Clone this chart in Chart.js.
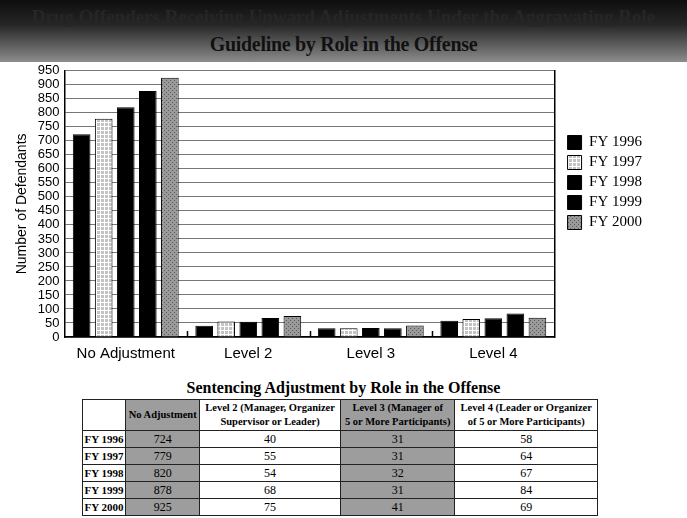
<!DOCTYPE html>
<html>
<head>
<meta charset="utf-8">
<script src="https://cdn.jsdelivr.net/npm/chart.js@4/dist/chart.umd.min.js"></script>
<style>
  html, body { margin: 0; padding: 0; width: 687px; height: 518px; overflow: hidden; background: #fff; }
  #header {
    position: absolute; left: 0; top: 0; width: 687px; height: 62px;
    background: linear-gradient(#0e0e0e 0%, #262626 40%, #8c8c8c 100%);
    font-family: "Liberation Serif", serif; font-weight: bold; text-align: center;
  }
  #header .l1 { position: absolute; top: 6px; width: 100%; font-size: 19px; color: #262626; }
  #header .l2 { position: absolute; top: 33px; width: 100%; font-size: 20px; color: #111; letter-spacing: -0.3px; }
  #chartBox { position: absolute; left: 0; top: 58px; width: 652px; height: 305px; }
  #tblTitle {
    position: absolute; left: 0; width: 687px; top: 379px; text-align: center;
    font-family: "Liberation Serif", serif; font-weight: bold; font-size: 16px;
  }
  table {
    position: absolute; left: 82px; top: 399px; width: 516px; border-collapse: collapse;
    font-family: "Liberation Serif", serif; font-size: 12px; text-align: center;
  }
  td, th { border: 1px solid #222; padding: 0; height: 16px; line-height: 14px; }
  th { height: 30px; font-size: 10.5px; font-weight: bold; }
  td.lab { font-weight: bold; font-size: 11px; }
  .sh { background: #9d9d9d; }
</style>
</head>
<body>
<div id="header">
  <div class="l1">Drug Offenders Receiving Upward Adjustments Under the Aggravating Role</div>
  <div class="l2">Guideline by Role in the Offense</div>
</div>
<div id="chartBox"><canvas id="roleChart"></canvas></div>
<div id="tblTitle">Sentencing Adjustment by Role in the Offense</div>
<table id="roleTable"></table>

<script>
// categories and series
const categories = ['No Adjustment', 'Level 2', 'Level 3', 'Level 4'];
const tableHeads = ['No Adjustment', 'Level 2 (Manager, Organizer<br>Supervisor or Leader)',
    'Level 3 (Manager of<br>5 or More Participants)', 'Level 4 (Leader or Organizer<br>of 5 or More Participants)'];
const years = ['FY 1996', 'FY 1997', 'FY 1998', 'FY 1999', 'FY 2000'];
const fy1996 = [724, 40, 31, 58];
const fy1997 = [779, 55, 31, 64];
const fy1998 = [820, 54, 32, 67];
const fy1999 = [878, 68, 31, 84];
const fy2000 = [925, 75, 41, 69];
const yTicks = { min: 0, max: 950, step: 50 };

// small stipple patterns for the grey bars
function makePattern(bg, fg, kind) {
    const c = document.createElement('canvas');
    c.width = 4; c.height = 4;
    const g = c.getContext('2d');
    g.fillStyle = bg; g.fillRect(0, 0, 4, 4);
    g.fillStyle = fg;
    if (kind === 'grid') {
        g.fillRect(0, 0, 4, 1); g.fillRect(0, 0, 1, 4);
    } else {
        g.fillRect(0, 0, 1, 1); g.fillRect(2, 2, 1, 1);
    }
    return g.createPattern(c, 'repeat');
}

const series = [fy1996, fy1997, fy1998, fy1999, fy2000];
const fills = ['#000', makePattern('#c4c4c4', '#ffffff', 'grid'), '#000', '#000', makePattern('#9a9a9a', '#5a5a5a', 'dots')];

// short tick marks between the groups, drawn up from the x axis
const groupTicks = {
    id: 'groupTicks',
    afterDatasetsDraw(chart) {
        const x = chart.scales.x, area = chart.chartArea, ctx = chart.ctx;
        const half = (x.getPixelForValue(1) - x.getPixelForValue(0)) / 2;
        ctx.save();
        ctx.strokeStyle = '#000';
        ctx.lineWidth = 1.5;
        for (let i = 1; i < categories.length; i++) {
            const px = Math.round(x.getPixelForValue(i) - half) + 0.5;
            ctx.beginPath();
            ctx.moveTo(px, area.bottom);
            ctx.lineTo(px, area.bottom - 6);
            ctx.stroke();
        }
        ctx.restore();
    }
};

const sans = "'Liberation Sans', Arial, sans-serif";

document.addEventListener('DOMContentLoaded', function () {
    const ctx = document.getElementById('roleChart').getContext('2d');
    new Chart(ctx, {
        type: 'bar',
        data: {
            labels: categories,
            datasets: series.map((d, i) => ({
                label: years[i],
                data: d,
                backgroundColor: fills[i],
                borderColor: '#000',
                borderWidth: 1,
                categoryPercentage: 0.9,
                barPercentage: 0.8
            }))
        },
        options: {
            responsive: true,
            maintainAspectRatio: false,
            animation: false,
            layout: { padding: { top: 0, right: 0, left: 12, bottom: 0 } },
            plugins: {
                legend: {
                    position: 'right',
                    align: 'start',
                    title: { display: true, text: ' ', padding: { top: 54, bottom: 0 }, font: { size: 15 } },
                    labels: {
                        boxWidth: 14,
                        boxHeight: 14,
                        padding: 5,
                        color: '#000',
                        font: { family: "'Liberation Serif', serif", size: 15 }
                    }
                },
                tooltip: { enabled: false }
            },
            scales: {
                x: {
                    grid: { display: false },
                    border: { color: '#000', width: 1.5 },
                    ticks: { color: '#000', padding: 0, font: { family: sans, size: 15 } }
                },
                y: {
                    min: yTicks.min,
                    max: yTicks.max,
                    ticks: { stepSize: yTicks.step, autoSkip: false, color: '#000', padding: 5, font: { family: sans, size: 13 } },
                    grid: { color: '#777', lineWidth: 1, borderDash: [1, 3], drawTicks: false },
                    border: { color: '#000', width: 1.5 },
                    title: { display: true, text: 'Number of Defendants', color: '#000', padding: 2, font: { family: sans, size: 14 } }
                },
                y1: {
                    position: 'right',
                    min: yTicks.min,
                    max: yTicks.max,
                    ticks: { display: false },
                    grid: { display: false },
                    border: { color: '#000', width: 1.5 }
                }
            }
        },
        plugins: [groupTicks]
    });

    // table under the chart
    const tbl = document.getElementById('roleTable');
    let html = '<tr><th></th>';
    tableHeads.forEach((h, i) => { html += '<th' + (i % 2 === 0 ? ' class="sh"' : '') + '>' + h + '</th>'; });
    html += '</tr>';
    years.forEach((y, r) => {
        html += '<tr><td class="lab">' + y + '</td>';
        series[r].forEach((v, i) => { html += '<td' + (i % 2 === 0 ? ' class="sh"' : '') + '>' + v + '</td>'; });
        html += '</tr>';
    });
    tbl.innerHTML = html;
});
</script>
</body>
</html>
